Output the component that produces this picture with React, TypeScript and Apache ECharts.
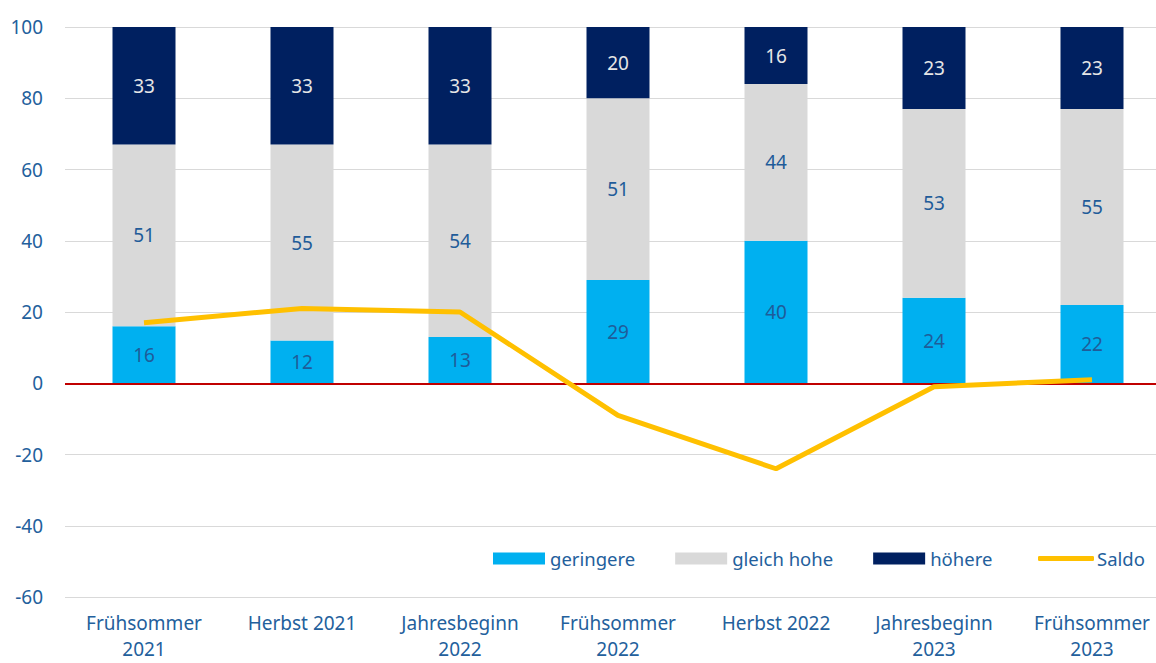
import React, { useEffect, useRef } from "react";
import * as echarts from "echarts";

const categories = ["Frühsommer\n2021", "Herbst 2021", "Jahresbeginn\n2022", "Frühsommer\n2022", "Herbst 2022", "Jahresbeginn\n2023", "Frühsommer\n2023"];
const geringere = [16, 12, 13, 29, 40, 24, 22];
const gleichHohe = [51, 55, 54, 51, 44, 53, 55];
const hoehere = [33, 33, 33, 20, 16, 23, 23];
const saldo = [17, 21, 20, -9, -24, -1, 1];

const TXT = "#23609C";
const FONT = "'Noto Sans', sans-serif";

export default function App() {
  const ref = useRef<HTMLDivElement>(null);
  useEffect(() => {
    const chart = echarts.init(ref.current!, null, { renderer: "svg" });
    const label = (color: string) => ({
      show: true,
      position: "inside",
      color,
      fontSize: 19,
      fontFamily: FONT,
    });
    chart.setOption({
      animation: false,
      textStyle: { fontFamily: FONT },
      grid: { left: 65, top: 27, width: 1106, height: 570, containLabel: false, outerBoundsMode: "none" },
      legend: [
        {
          left: 488,
          top: 544,
          itemWidth: 52,
          itemHeight: 12,
          itemGap: 40,
          data: ["geringere", "gleich hohe", "höhere"],
          textStyle: { color: TXT, fontSize: 18.5, fontFamily: FONT, padding: [0, 0, 0, 0] },
          icon: "rect",
        },
        {
          left: 1033,
          top: 544,
          itemWidth: 56,
          itemHeight: 5,
          data: [{ name: "Saldo", icon: "roundRect" }],
          textStyle: { color: TXT, fontSize: 18.5, fontFamily: FONT, padding: [0, 0, 0, -2] },
        },
      ],
      xAxis: {
        type: "category",
        data: categories,
        axisLine: { show: false },
        axisTick: { show: false },
        axisLabel: { color: TXT, fontSize: 19, fontFamily: FONT, lineHeight: 26, margin: 13, interval: 0 },
      },
      yAxis: {
        type: "value",
        min: -60,
        max: 100,
        interval: 20,
        axisLine: { show: false },
        axisTick: { show: false },
        axisLabel: { color: TXT, fontSize: 19, fontFamily: FONT, margin: 22 },
        splitLine: { lineStyle: { color: "#D9D9D9", width: 1 } },
      },
      series: [
        {
          name: "geringere",
          type: "bar",
          stack: "s",
          data: geringere,
          barWidth: 63,
          itemStyle: { color: "#00B0F0" },
          label: label("#1F5C99"),
          markLine: {
            silent: true,
            symbol: "none",
            label: { show: false },
            lineStyle: { color: "#C00000", width: 2, type: "solid" },
            data: [{ yAxis: 0 }],
          },
        },
        {
          name: "gleich hohe",
          type: "bar",
          stack: "s",
          data: gleichHohe,
          barWidth: 63,
          itemStyle: { color: "#D9D9D9" },
          label: label("#1F5C99"),
        },
        {
          name: "höhere",
          type: "bar",
          stack: "s",
          data: hoehere,
          barWidth: 63,
          itemStyle: { color: "#002060" },
          label: label("#E6E6E6"),
        },
        {
          name: "Saldo",
          type: "line",
          data: saldo,
          symbol: "none",
          lineStyle: { color: "#FFC000", width: 5 },
          itemStyle: { color: "#FFC000" },
          z: 5,
        },
      ],
    });
    return () => chart.dispose();
  }, []);
  return <div ref={ref} style={{ position: "absolute", left: 0, top: 0, width: 1156, height: 663 }} />;
}
